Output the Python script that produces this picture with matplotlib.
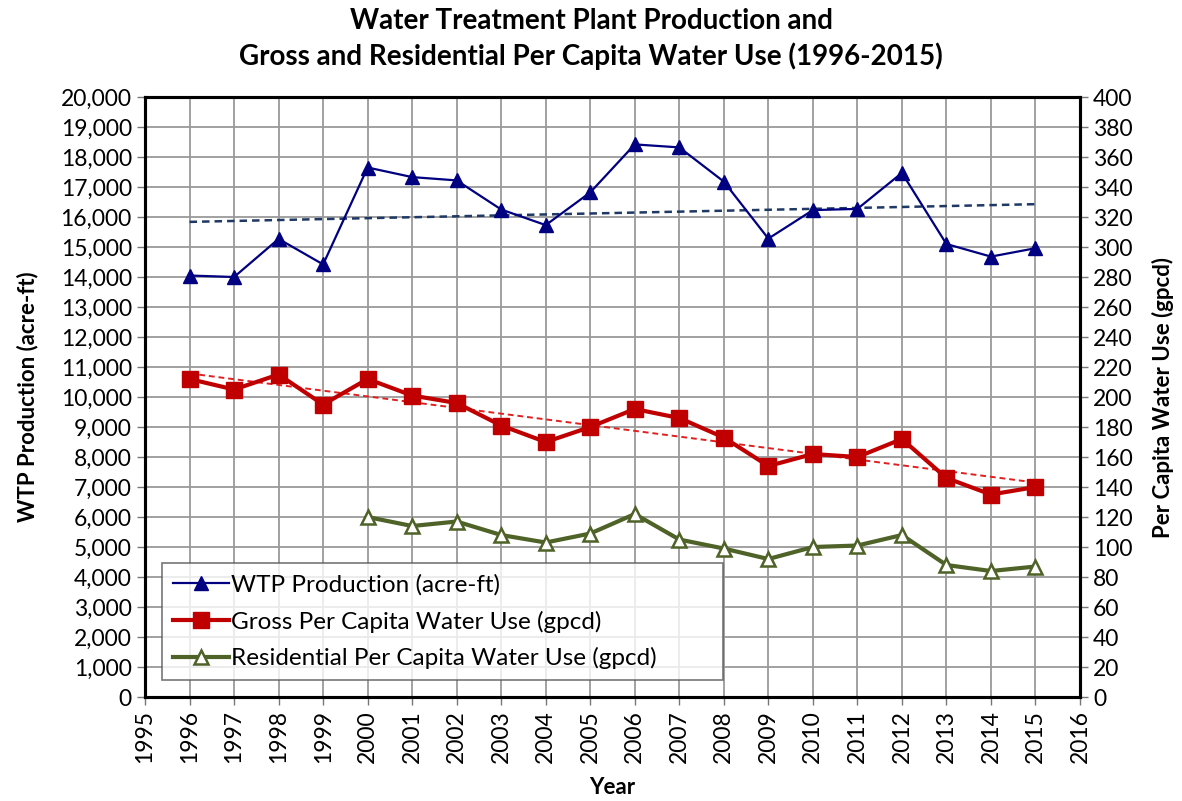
import numpy as np
import matplotlib
matplotlib.use("Agg")
import matplotlib.pyplot as plt
from matplotlib.ticker import FuncFormatter, MultipleLocator

plt.rcParams['font.family'] = ['Lato', 'DejaVu Sans']

years = np.arange(1996, 2016)
wtp = [14050, 14000, 15270, 14420, 17650, 17330, 17220, 16250, 15730, 16820,
       18420, 18320, 17180, 15280, 16230, 16270, 17470, 15100, 14680, 14960]
gross = [212, 205, 215, 195, 212, 201, 196, 181, 170, 180,
         192, 186, 173, 154, 162, 160, 172, 146, 135, 140]
res_years = np.arange(2000, 2016)
residential = [120, 114, 117, 108, 103, 109, 122, 105, 99, 92, 100, 101, 108, 88, 84, 87]

fig = plt.figure(figsize=(11.82, 8.01), dpi=100)
ax = fig.add_axes([0.1227, 0.1298, 0.7910, 0.7491])
ax2 = ax.twinx()

# grid on the primary axis
ax.set_xlim(1995, 2016)
ax.set_ylim(0, 20000)
ax.xaxis.set_major_locator(MultipleLocator(1))
ax.yaxis.set_major_locator(MultipleLocator(1000))
ax.yaxis.set_major_formatter(FuncFormatter(lambda v, p: f"{int(v):,}"))
ax.grid(True, color='#9a9a9a', linewidth=1.3)
ax.set_axisbelow(True)

ax2.set_ylim(0, 400)
ax2.yaxis.set_major_locator(MultipleLocator(20))

# WTP production + trend
l1, = ax.plot(years, wtp, color='#000080', lw=1.6, marker='^', ms=10,
              label='WTP Production (acre-ft)', zorder=3)
k = np.polyfit(years, wtp, 1)
ax.plot(years[[0, -1]], np.polyval(k, years[[0, -1]]), color='#1F3864',
        lw=1.8, ls=(0, (3, 2)), zorder=2)

# per capita series on right axis
k2 = np.polyfit(years, gross, 1)
ax2.plot(years[[0, -1]], np.polyval(k2, years[[0, -1]]), color='#E02020',
         lw=1.4, ls=(0, (3, 2)), zorder=2)
l2, = ax2.plot(years, gross, color='#C00000', lw=3, marker='s', ms=12,
               label='Gross Per Capita Water Use (gpcd)', zorder=3)
l3, = ax2.plot(res_years, residential, color='#4F6228', lw=3, marker='^', ms=10,
               mfc='white', mec='#4F6228', mew=1.8,
               label='Residential Per Capita Water Use (gpcd)', zorder=3)

for a in (ax, ax2):
    for s in a.spines.values():
        s.set_linewidth(2.2)
        s.set_color('black')
    a.tick_params(labelsize=16.5, length=6, width=1, color='#777777', direction='out')

for lab in ax.get_xticklabels():
    lab.set_rotation(90)

ax.set_xlabel('Year', fontsize=16, fontweight='bold', labelpad=10)
ax.set_ylabel('WTP Production (acre-ft)', fontsize=16, fontweight='bold', labelpad=16)
ax2.set_ylabel('Per Capita Water Use (gpcd)', fontsize=16, fontweight='bold', labelpad=14)

fig.suptitle('Water Treatment Plant Production and\nGross and Residential Per Capita Water Use (1996-2015)',
             fontsize=20, fontweight='bold', y=0.99, linespacing=1.35)

leg = ax2.legend(handles=[l1, l2, l3], loc='lower left',
                 bbox_to_anchor=(0.018, 0.028, 0.600, 0.19), mode='expand',
                 fontsize=17.5, frameon=True, fancybox=False, handlelength=2.3,
                 handletextpad=0.1, borderaxespad=0, labelspacing=0.6,
                 borderpad=0.45)
leg.get_frame().set_edgecolor('#555555')
leg.get_frame().set_linewidth(1.2)

fig.savefig('out.png', dpi=100)
